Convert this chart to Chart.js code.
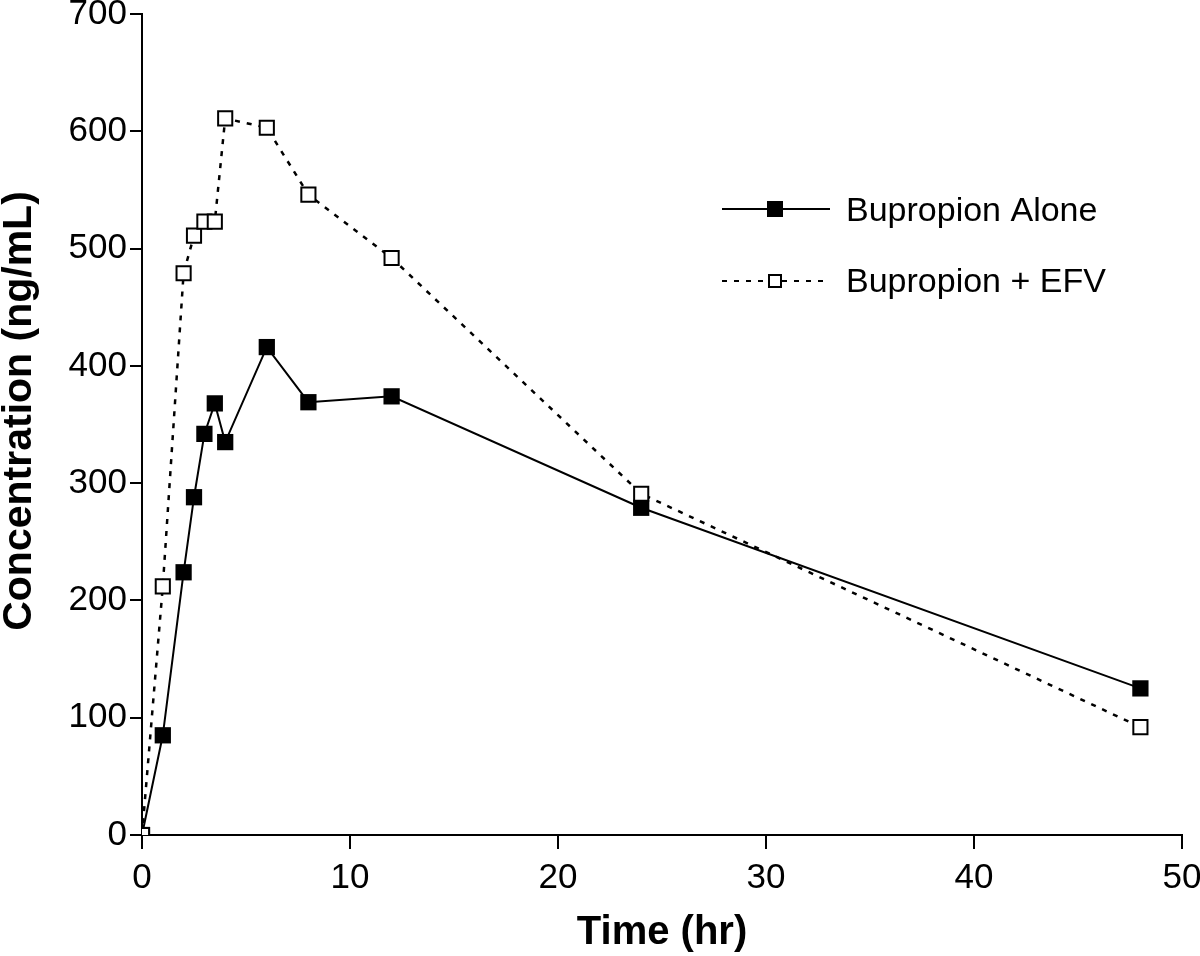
<!DOCTYPE html>
<html>
<head>
<meta charset="utf-8">
<script src="https://cdn.jsdelivr.net/npm/chart.js@4"></script>
<style>
  html, body { margin: 0; padding: 0; background: #fff; }
  #wrap { width: 1200px; height: 956px; position: relative; }
</style>
</head>
<body>
<div id="wrap"><canvas id="c" width="1200" height="956"></canvas></div>
<script>
// Time points (hr)
const times = [0, 1, 2, 2.5, 3, 3.5, 4, 6, 8, 12, 24, 48];
// Bupropion Alone (ng/mL)
const alone = [0, 85, 224, 288, 342, 368, 335, 416, 369, 374, 279, 125];
// Bupropion + EFV (ng/mL)
const withEFV = [0, 212, 479, 511, 523, 523, 611, 603, 546, 492, 291, 92];
const seriesNames = ['Bupropion Alone', 'Bupropion + EFV'];
const xTicks = [0, 10, 20, 30, 40, 50];
const yTicks = [0, 100, 200, 300, 400, 500, 600, 700];
const yTitle = 'Concentration (ng/mL)';

const toPts = (vals) => times.map((t, i) => ({ x: t, y: vals[i] }));

const decorPlugin = {
  id: 'decor',
  afterDraw(chart) {
    const ctx = chart.ctx;
    ctx.save();
    // y axis title
    ctx.save();
    ctx.translate(20, 411);
    ctx.rotate(-Math.PI / 2);
    ctx.fillStyle = '#000';
    ctx.font = 'bold 41px "Liberation Sans", Arial, sans-serif';
    ctx.textAlign = 'center';
    ctx.textBaseline = 'middle';
    ctx.fillText(yTitle, 0, 0);
    ctx.restore();
    // legend
    const rows = [{ y: 209, textY: 212 }, { y: 281, textY: 283 }];
    rows.forEach((r, i) => {
      ctx.strokeStyle = '#000';
      ctx.lineWidth = 2;
      ctx.setLineDash(i === 0 ? [] : [5, 7]);
      ctx.beginPath();
      ctx.moveTo(722, r.y);
      ctx.lineTo(830, r.y);
      ctx.stroke();
      ctx.setLineDash([]);
      if (i === 0) {
        ctx.fillStyle = '#000';
        ctx.fillRect(767, r.y - 8, 16, 16);
      } else {
        ctx.fillStyle = '#fff';
        ctx.fillRect(769, r.y - 6, 12, 12);
        ctx.lineWidth = 2;
        ctx.strokeRect(769, r.y - 6, 12, 12);
      }
      ctx.fillStyle = '#000';
      ctx.font = '34px "Liberation Sans", Arial, sans-serif';
      ctx.textBaseline = 'middle';
      ctx.textAlign = 'left';
      ctx.fillText(seriesNames[i], 846, r.textY);
    });
    ctx.restore();
  }
};

new Chart(document.getElementById('c'), {
  type: 'line',
  data: {
    datasets: [
      {
        label: seriesNames[0],
        data: toPts(alone),
        borderColor: '#000',
        borderWidth: 2,
        backgroundColor: '#000',
        pointStyle: 'rect',
        pointRadius: 11.5,
        pointBackgroundColor: '#000',
        pointBorderColor: '#000',
        pointBorderWidth: 0,
        tension: 0,
        order: 1
      },
      {
        label: seriesNames[1],
        data: toPts(withEFV),
        borderColor: '#000',
        borderWidth: 2.5,
        borderDash: [5, 7],
        pointStyle: 'rect',
        pointRadius: 10,
        pointBackgroundColor: '#fff',
        pointBorderColor: '#000',
        pointBorderWidth: 2,
        tension: 0,
        order: 0
      }
    ]
  },
  options: {
    responsive: false,
    animation: false,
    layout: { autoPadding: false, padding: { top: 14, right: 18, left: 0, bottom: 0 } },
    plugins: { legend: { display: false }, tooltip: { enabled: false } },
    scales: {
      x: {
        type: 'linear',
        min: 0, max: 50,
        afterFit(s) { s.height = 121; s.paddingLeft = 0; s.paddingRight = 0; },
        afterBuildTicks(s) { s.ticks = xTicks.map(v => ({ value: v })); },
        border: { display: true, color: '#000', width: 2 },
        grid: { display: true, drawOnChartArea: false, drawTicks: true, tickLength: 14, color: '#000', lineWidth: 2 },
        ticks: { color: '#000', padding: 8, maxRotation: 0, font: { family: '"Liberation Sans", Arial, sans-serif', size: 35 } },
        title: { display: true, text: 'Time (hr)', color: '#000', padding: { top: 0, bottom: 3 }, font: { family: '"Liberation Sans", Arial, sans-serif', size: 40, weight: 'bold', lineHeight: 1 } }
      },
      y: {
        type: 'linear',
        min: 0, max: 700,
        afterFit(s) { s.width = 142; s.paddingTop = 0; s.paddingBottom = 0; },
        afterBuildTicks(s) { s.ticks = yTicks.map(v => ({ value: v })); },
        border: { display: true, color: '#000', width: 2 },
        grid: { display: true, drawOnChartArea: false, drawTicks: true, tickLength: 12, color: '#000', lineWidth: 2 },
        ticks: { color: '#000', padding: 3, font: { family: '"Liberation Sans", Arial, sans-serif', size: 35 } },
        title: { display: false }
      }
    }
  },
  plugins: [decorPlugin]
});
</script>
</body>
</html>
